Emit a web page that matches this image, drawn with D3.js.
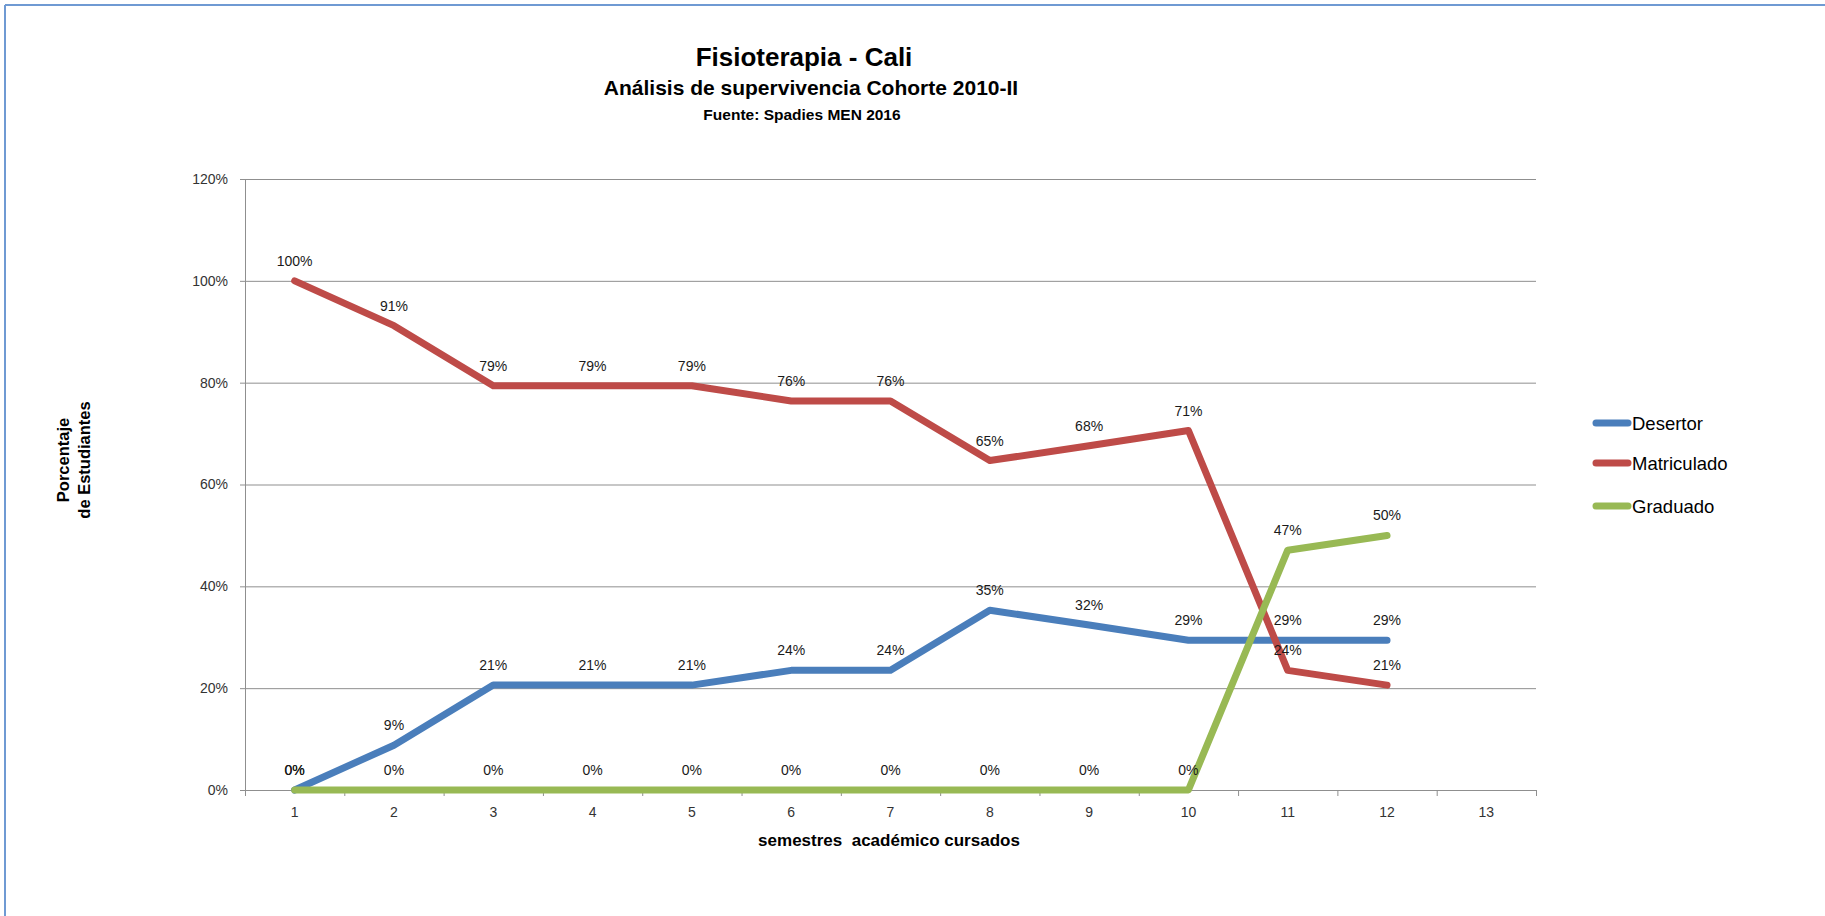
<!DOCTYPE html>
<html>
<head>
    <title>Fisioterapia - Cali</title>
    <script src="https://d3js.org/d3.v7.min.js"></script>
    <style>
        body {
            margin: 0;
            background: #fff;
            font-family: "Liberation Sans", Arial, sans-serif;
        }
        svg text {
            font-family: "Liberation Sans", Arial, sans-serif;
        }
    </style>
</head>
<body>
    <div id="chart"></div>

    <script>
        // Data
        const semestres = [1, 2, 3, 4, 5, 6, 7, 8, 9, 10, 11, 12, 13];
        const seriesNames = ["Desertor", "Matriculado", "Graduado"];
        const desertor = [0, 8.8, 20.6, 20.6, 20.6, 23.5, 23.5, 35.3, 32.4, 29.4, 29.4, 29.4];
        const matriculado = [100, 91.2, 79.4, 79.4, 79.4, 76.4, 76.4, 64.7, 67.6, 70.6, 23.5, 20.6];
        const graduado = [0, 0, 0, 0, 0, 0, 0, 0, 0, 0, 47.1, 50];
        const yTicks = [0, 20, 40, 60, 80, 100, 120];

        const colors = {
            "Desertor": "#4a7ebb",
            "Matriculado": "#be4b48",
            "Graduado": "#98b954"
        };

        const series = [
            {name: "Desertor", values: desertor},
            {name: "Matriculado", values: matriculado},
            {name: "Graduado", values: graduado}
        ];

        const W = 1825, H = 916;
        const plotLeft = 245, plotRight = 1536, plotTop = 179, plotBottom = 790;

        const svg = d3.select('#chart')
            .append('svg')
            .attr('width', W)
            .attr('height', H);

        // frame border (top and left visible)
        svg.append('line')
            .attr('x1', 5).attr('x2', W).attr('y1', 5).attr('y2', 5)
            .attr('stroke', '#6f9ad3').attr('stroke-width', 2);
        svg.append('line')
            .attr('x1', 5).attr('x2', 5).attr('y1', 5).attr('y2', H)
            .attr('stroke', '#6f9ad3').attr('stroke-width', 2);

        // titles
        svg.append('text')
            .attr('x', 804).attr('y', 66)
            .attr('text-anchor', 'middle')
            .style('font-size', '26px').style('font-weight', 'bold')
            .attr('fill', '#000')
            .text('Fisioterapia - Cali');
        svg.append('text')
            .attr('x', 811).attr('y', 95)
            .attr('text-anchor', 'middle')
            .style('font-size', '21px').style('font-weight', 'bold')
            .attr('fill', '#000')
            .text('Análisis de supervivencia Cohorte 2010-II');
        svg.append('text')
            .attr('x', 802).attr('y', 120)
            .attr('text-anchor', 'middle')
            .style('font-size', '15.5px').style('font-weight', 'bold')
            .attr('fill', '#000')
            .text('Fuente: Spadies MEN 2016');

        // scales
        const x = d3.scaleBand()
            .domain(semestres)
            .range([plotLeft, plotRight])
            .padding(0);
        const cx = d => x(d) + x.bandwidth() / 2;

        const y = d3.scaleLinear()
            .domain([0, 120])
            .range([plotBottom, plotTop]);

        // gridlines
        svg.append('g')
            .selectAll('line')
            .data(yTicks)
            .join('line')
            .attr('x1', plotLeft - 5)
            .attr('x2', plotRight)
            .attr('y1', d => y(d) + 0.5)
            .attr('y2', d => y(d) + 0.5)
            .attr('stroke', '#8f8f8f')
            .attr('stroke-width', 1);

        // y axis
        const yAxis = svg.append('g')
            .attr('transform', `translate(${plotLeft},0)`)
            .call(d3.axisLeft(y)
                .tickValues(yTicks)
                .tickFormat(d => d + '%')
                .tickSize(0)
                .tickPadding(17));
        yAxis.select('.domain').remove();
        yAxis.selectAll('text')
            .style('font-size', '14px')
            .attr('fill', '#333');

        svg.append('line')
            .attr('x1', plotLeft + 0.5).attr('x2', plotLeft + 0.5)
            .attr('y1', plotTop).attr('y2', plotBottom + 6)
            .attr('stroke', '#8f8f8f');

        // x axis
        const xAxis = svg.append('g')
            .attr('transform', `translate(0,${plotBottom})`)
            .call(d3.axisBottom(x)
                .tickSize(0)
                .tickPadding(17));
        xAxis.select('.domain').remove();
        xAxis.selectAll('text')
            .style('font-size', '14px')
            .attr('fill', '#333');

        // category boundary ticks
        svg.append('g')
            .selectAll('line')
            .data(semestres)
            .join('line')
            .attr('x1', d => x(d) + x.bandwidth() + 0.5)
            .attr('x2', d => x(d) + x.bandwidth() + 0.5)
            .attr('y1', plotBottom)
            .attr('y2', plotBottom + 6)
            .attr('stroke', '#8f8f8f');

        // axis titles
        svg.append('text')
            .attr('x', 889).attr('y', 846)
            .attr('text-anchor', 'middle')
            .style('font-size', '17px').style('font-weight', 'bold')
            .style('white-space', 'pre')
            .attr('fill', '#000')
            .text('semestres  académico cursados');

        const yTitle = svg.append('text')
            .attr('transform', 'translate(69,460) rotate(-90)')
            .attr('text-anchor', 'middle')
            .style('font-size', '16.5px').style('font-weight', 'bold')
            .attr('fill', '#000');
        yTitle.append('tspan').attr('x', 0).attr('dy', 0).text('Porcentaje');
        yTitle.append('tspan').attr('x', 0).attr('dy', 21).text('de Estudiantes');

        // lines
        const line = d3.line()
            .x((d, i) => cx(semestres[i]))
            .y(d => y(d));

        svg.append('g')
            .selectAll('path')
            .data(series)
            .join('path')
            .attr('d', d => line(d.values))
            .attr('fill', 'none')
            .attr('stroke', d => colors[d.name])
            .attr('stroke-width', 7)
            .attr('stroke-linejoin', 'round')
            .attr('stroke-linecap', 'round');

        // data labels
        const labels = svg.append('g');
        series.forEach(s => {
            labels.selectAll(null)
                .data(s.values)
                .join('text')
                .attr('x', (d, i) => cx(semestres[i]))
                .attr('y', d => y(d) - 15)
                .attr('text-anchor', 'middle')
                .style('font-size', '14px')
                .attr('fill', '#1a1a1a')
                .text(d => Math.round(d) + '%');
        });

        // legend
        const legend = svg.append('g');
        const legendY = [423, 463, 506];
        seriesNames.forEach((name, i) => {
            legend.append('line')
                .attr('x1', 1596).attr('x2', 1628)
                .attr('y1', legendY[i]).attr('y2', legendY[i])
                .attr('stroke', colors[name])
                .attr('stroke-width', 7)
                .attr('stroke-linecap', 'round');
            legend.append('text')
                .attr('x', 1632)
                .attr('y', legendY[i] + 6.5)
                .style('font-size', '18.5px')
                .attr('fill', '#000')
                .text(name);
        });
    </script>
</body>
</html>
